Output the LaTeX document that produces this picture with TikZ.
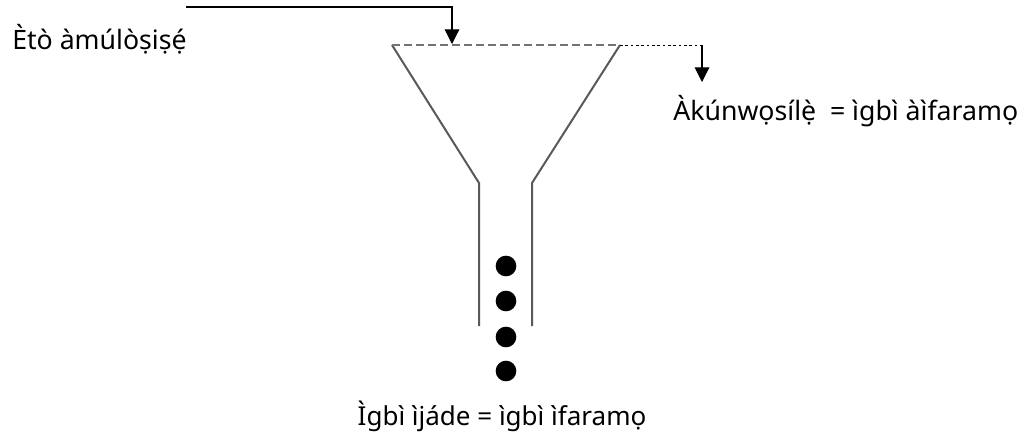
\documentclass[tikz,border=0pt]{standalone}
\usepackage{fontspec}
\setmainfont{Noto Sans}
\usetikzlibrary{arrows.meta}

\begin{document}
\begin{tikzpicture}[
    x = 0.75pt, y = -0.75pt,
    every node/.style = {inner sep = 0pt, font = \fontsize{20}{24}\selectfont},
    wall/.style = {draw = black!65, line width = 1.5pt},
    pointer/.style = {draw, line width = 0.8pt,
      -{Triangle[length = 11pt, width = 11pt]}},
    drop/.style = {circle, fill = black, minimum size = 15.5pt}
  ]
  \useasboundingbox (0,0) rectangle (1035,437);

  % funnel outline
  \coordinate (rimL) at (392,45);
  \coordinate (rimR) at (620,45);
  \coordinate (neckL) at (479,183);
  \coordinate (neckR) at (532,183);
  \coordinate (tipL) at (479,326);
  \coordinate (tipR) at (532,326);
  \draw[wall] (rimL) -- (neckL) -- (tipL);
  \draw[wall] (rimR) -- (neckR) -- (tipR);
  \draw[draw = black!55, line width = 1.5pt, dash pattern = on 6pt off 3pt]
    (rimL) -- (rimR);

  % drops
  \foreach \n/\y in {1/266, 2/301, 3/337, 4/371}
    \node[drop] (drop\n) at (506,\y) {};

  % labels
  \node[anchor = base west] (eto) at (12,49) {Ètò àmúlòṣiṣẹ́};
  \node[anchor = base west] (akun) at (673,120)
    {Àkúnwọsílẹ̀ \ = ìgbì àìfaramọ};
  \node[anchor = base, font = \fontsize{19.5}{23}\selectfont] (igbi)
    at (502,425) {Ìgbì ìjáde = ìgbì ìfaramọ};

  % pointers
  \coordinate (inStart) at (186,7);
  \coordinate (inBend) at (452,7);
  \coordinate (inTip) at (452,44);
  \draw[pointer] (inStart) -- (inBend) -- (inTip);
  \coordinate (outBend) at (702,45);
  \coordinate (outTip) at (702,82);
  \draw[draw, line width = 0.6pt, dash pattern = on 2pt off 2pt]
    (rimR) -- (outBend);
  \draw[pointer] (outBend) -- (outTip);

\end{tikzpicture}
\end{document}
